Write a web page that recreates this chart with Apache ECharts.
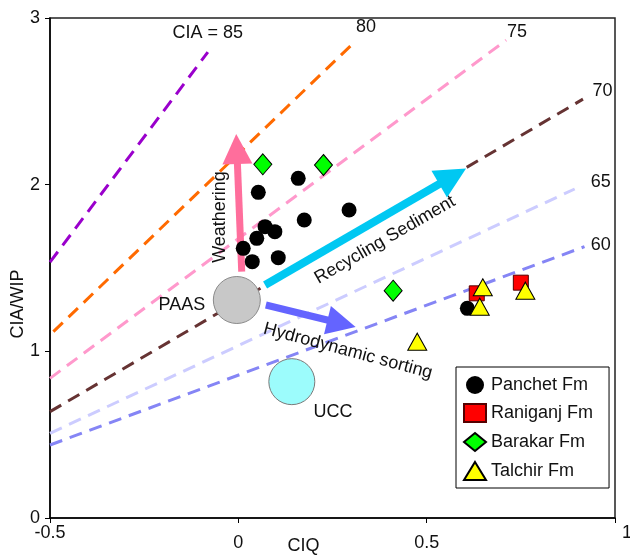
<!DOCTYPE html>
<html><head><meta charset="utf-8">
<script src="https://cdn.jsdelivr.net/npm/echarts@6/dist/echarts.min.js"></script>
<style>html,body{margin:0;padding:0;background:#fff}#c{width:630px;height:556px}</style>
</head><body><div id="c"></div>
<script>
// ---- data ----
const xTicks = [-0.5, 0, 0.5, 1];
const yTicks = [0, 1, 2, 3];
const ciaValues = ['85', '80', '75', '70', '65', '60'];
const ciaLabels = ['CIA = 85', '80', '75', '70', '65', '60'];
const ciaStart = [[-0.5, 1.535], [-0.491, 1.118], [-0.5, 0.838], [-0.5, 0.638], [-0.5, 0.508], [-0.5, 0.438]];
const ciaEnd = [[-0.081, 2.795], [0.309, 2.857], [0.711, 2.867], [0.915, 2.513], [0.893, 1.974], [0.919, 1.628]];
const ciaLabelPos = [[-0.081, 2.910], [0.339, 2.944], [0.740, 2.918], [0.967, 2.564], [0.962, 2.018], [0.962, 1.638]];

const panchet = [[0.159, 2.038], [0.053, 1.954], [0.294, 1.848], [0.175, 1.788], [0.071, 1.748], [0.097, 1.718],
                 [0.049, 1.678], [0.013, 1.618], [0.037, 1.538], [0.106, 1.562], [0.608, 1.258]];
const raniganj = [[0.633, 1.348], [0.750, 1.412]];
const barakar = [[0.065, 2.122], [0.226, 2.118], [0.411, 1.364]];
const talchir = [[0.649, 1.384], [0.641, 1.268], [0.762, 1.364], [0.475, 1.058]];
const paas = [[-0.004, 1.308]];
const ucc = [[0.142, 0.818]];

const weatheringArrow = [[0.009, 1.478], [-0.004, 2.214]];
const recyclingArrow = [[0.071, 1.398], [0.569, 2.050]];
const sortingArrow = [[0.073, 1.278], [0.274, 1.167]];

const annotationText = ['Weathering', 'Recycling Sediment', 'Hydrodynamic sorting', 'PAAS', 'UCC'];
const annotationPos = [[-0.049, 1.806], [0.389, 1.668], [0.291, 1.002], [-0.150, 1.278], [0.251, 0.636]];
const annotationRotate = [90, 30, -15, 0, 0];

const formationNames = ['Panchet Fm', 'Raniganj Fm', 'Barakar Fm', 'Talchir Fm'];

// ---- styles ----
const FONT = 'Liberation Sans, Arial, Helvetica, sans-serif';
const ciaColors = ['#9a00cc', '#ff6a00', '#ff99cc', '#663333', '#ccccff', '#8585f5'];

const chart = echarts.init(document.getElementById('c'), null, {renderer: 'canvas'});

const series = [];
ciaValues.forEach((v, i) => {
  series.push({
    name: 'CIA ' + v, type: 'line', data: [ciaStart[i], ciaEnd[i]],
    showSymbol: false, symbol: 'none', silent: true, z: 1,
    lineStyle: {color: ciaColors[i], width: 3, type: [13, 8]}
  });
});
function arrow(coords, color, width, head) {
  return {
    type: 'lines', coordinateSystem: 'cartesian2d', z: 2, silent: true,
    symbol: ['none', 'triangle'], symbolSize: head,
    lineStyle: {color: color, width: width, opacity: 1, curveness: 0},
    data: [{coords: coords}]
  };
}
series.push(arrow(weatheringArrow, '#ff6e9c', 7, 30));
series.push(arrow(recyclingArrow, '#00c8f2', 8, 31));
series.push(arrow(sortingArrow, '#6464ff', 7, 29));

series.push({type: 'scatter', data: paas, symbol: 'circle', symbolSize: 47, z: 3, silent: true,
  itemStyle: {color: '#c8c8c8', borderColor: '#8a8a8a', borderWidth: 1, opacity: 1}});
series.push({type: 'scatter', data: ucc, symbol: 'circle', symbolSize: 46, z: 3, silent: true,
  itemStyle: {color: '#9cfcfc', borderColor: '#7a7a7a', borderWidth: 1, opacity: 1}});

series.push({name: formationNames[0], type: 'scatter', data: panchet, symbol: 'circle', symbolSize: 15, z: 4,
  itemStyle: {color: '#000', opacity: 1}});
series.push({name: formationNames[1], type: 'scatter', data: raniganj, symbol: 'rect', symbolSize: 15, z: 4,
  itemStyle: {color: '#ff0000', borderColor: '#550000', borderWidth: 1, opacity: 1}});
series.push({name: formationNames[2], type: 'scatter', data: barakar, symbol: 'diamond', symbolSize: [18, 21], z: 4,
  itemStyle: {color: '#00ff00', borderColor: '#000', borderWidth: 1, opacity: 1}});
series.push({name: formationNames[3], type: 'scatter', data: talchir, symbol: 'triangle', symbolSize: [19, 17], z: 4,
  itemStyle: {color: '#ffff00', borderColor: '#000', borderWidth: 1, opacity: 1}});

const textData = [];
annotationText.forEach((t, i) => textData.push({value: annotationPos[i], name: t, label: {rotate: annotationRotate[i]}}));
ciaLabels.forEach((t, i) => textData.push({value: ciaLabelPos[i], name: t, label: {rotate: 0}}));
series.push({type: 'scatter', data: textData, symbolSize: 1, z: 5, silent: true,
  itemStyle: {color: 'rgba(0,0,0,0)', opacity: 1},
  label: {show: true, position: 'inside', formatter: p => p.name, color: '#111', opacity: 1,
    fontFamily: FONT, fontSize: 18, align: 'center', verticalAlign: 'middle'}});

chart.setOption({
  animation: false,
  backgroundColor: '#fff',
  textStyle: {fontFamily: FONT},
  grid: {left: 50, right: 15, top: 18, bottom: 38, outerBoundsMode: 'none', containLabel: false,
    show: true, borderColor: '#222', borderWidth: 1.5, backgroundColor: 'transparent'},
  legend: {
    orient: 'vertical', left: 456, top: 367,
    padding: [9, 16, 7, 7], itemGap: 9, itemWidth: 22, itemHeight: 18,
    borderColor: '#000', borderWidth: 1, backgroundColor: '#fff',
    textStyle: {fontFamily: FONT, fontSize: 18, color: '#111'},
    data: [
      {name: formationNames[0], icon: 'circle'},
      {name: formationNames[1], icon: 'rect'},
      {name: formationNames[2], icon: 'diamond'},
      {name: formationNames[3], icon: 'triangle'}
    ]
  },
  xAxis: {
    type: 'value', min: xTicks[0], max: xTicks[xTicks.length - 1], interval: 0.5,
    name: 'CIQ', nameLocation: 'middle', nameGap: 19, nameMoveOverlap: false,
    nameTextStyle: {fontFamily: FONT, fontSize: 18, color: '#111', padding: [0, 58, 0, 0]},
    axisLine: {onZero: false, lineStyle: {color: '#000', width: 1.5}},
    axisTick: {show: true, inside: false, length: 5, lineStyle: {color: '#000', width: 1}},
    splitLine: {show: false},
    axisLabel: {
      margin: 6, color: '#111', fontFamily: FONT, fontSize: 18, hideOverlap: false,
      formatter: v => v === xTicks[0] ? '{e|' + v + '}' : (v === xTicks[xTicks.length - 1] ? '{r|' + v + '}' : '{m|' + v + '}'),
      rich: {
        e: {fontFamily: FONT, fontSize: 18, color: '#111'},
        r: {fontFamily: FONT, fontSize: 18, color: '#111', padding: [0, 0, 0, 24]},
        m: {fontFamily: FONT, fontSize: 18, color: '#111', padding: [10, 0, 0, 0]}
      }
    }
  },
  yAxis: {
    type: 'value', min: yTicks[0], max: yTicks[yTicks.length - 1], interval: 1,
    name: 'CIA/WIP', nameLocation: 'middle', nameGap: 23, nameMoveOverlap: false,
    nameTextStyle: {fontFamily: FONT, fontSize: 18, color: '#111', padding: [0, 72, 0, 0]},
    axisLine: {onZero: false, lineStyle: {color: '#000', width: 1.5}},
    axisTick: {show: true, inside: false, length: 5, lineStyle: {color: '#000', width: 1}},
    splitLine: {show: false},
    axisLabel: {margin: 10, color: '#111', fontFamily: FONT, fontSize: 18, hideOverlap: false}
  },
  series: series
});
</script></body></html>
